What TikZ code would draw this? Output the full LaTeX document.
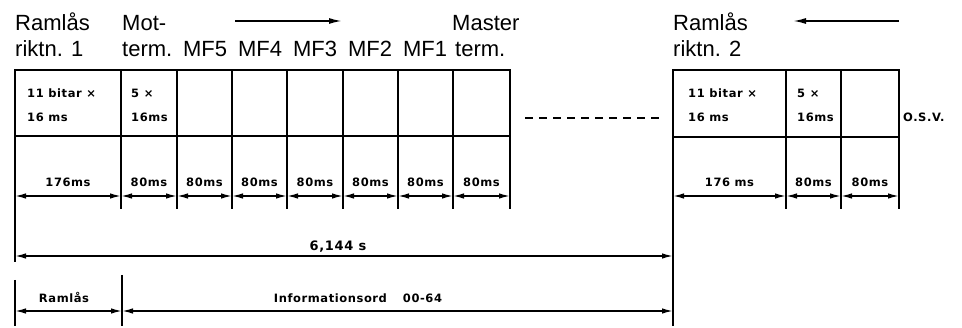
\documentclass[tikz,border=0pt]{standalone}
\usepackage{fontspec}
\setmainfont{Liberation Sans}
\newfontfamily\lblfont{DejaVu Sans}[LetterSpace=5]
\usetikzlibrary{arrows.meta}
\begin{document}
\begin{tikzpicture}[x=1pt,y=-1pt,
  frame/.style={line width=2.6pt},
  cellline/.style={line width=1.5pt},
  dimline/.style={line width=1.5pt,{Latex[length=11pt,width=5.5pt]}-{Latex[length=11pt,width=5.5pt]}},
  onearrow/.style={line width=1.7pt,-{Latex[length=13pt,width=6pt]}},
  head/.style={font=\fontsize{22}{22}\selectfont,inner sep=0pt},
  lbl/.style={font=\lblfont\bfseries\fontsize{11.5}{11.5}\selectfont,inner sep=0pt},
  big/.style={font=\lblfont\bfseries\fontsize{13}{13}\selectfont,inner sep=0pt}]
\useasboundingbox (0,0) rectangle (962,328);

% ---------- headings ----------
\node[head,anchor=base west] (r1a) at (15,31) {Ramlås};
\node[head,anchor=base west] (r1b) at (15,57) {riktn. 1};
\node[head,anchor=base west] (mta) at (122,31) {Mot-};
\node[head,anchor=base west] (mtb) at (122,57) {term.};
\node[head,anchor=base] (mf5) at (205,57) {MF5};
\node[head,anchor=base] (mf4) at (260,57) {MF4};
\node[head,anchor=base] (mf3) at (315,57) {MF3};
\node[head,anchor=base] (mf2) at (370,57) {MF2};
\node[head,anchor=base] (mf1) at (425,57) {MF1};
\node[head,anchor=base west] (msa) at (452,31) {Master};
\node[head,anchor=base west] (msb) at (455,57) {term.};
\node[head,anchor=base west] (r2a) at (673,31) {Ramlås};
\node[head,anchor=base west] (r2b) at (673,57) {riktn. 2};

\coordinate (a1s) at (235,21); \coordinate (a1e) at (342,21);
\draw[onearrow] (a1s) -- (a1e);
\coordinate (a2s) at (899,21); \coordinate (a2e) at (793,21);
\draw[onearrow] (a2s) -- (a2e);

% ---------- left block ----------
\foreach \n/\x in {0/15,1/121,2/177,3/232,4/287,5/343,6/398,7/453,8/510}{
  \coordinate (T\n) at (\x,70);
  \coordinate (M\n) at (\x,136);
  \coordinate (B\n) at (\x,209);
  \coordinate (D\n) at (\x,196);
}
\foreach \n in {1,...,7}{\draw[cellline] (T\n) -- (B\n);}
\draw[cellline] (M8) -- (B8);
\draw[frame] (T0) rectangle (M8);
\draw[frame] (M0) -- (M8);
\coordinate (L0a) at (15,262);
\draw[cellline] (M0) -- (L0a);

\draw[dimline] (D0) -- node[lbl,anchor=base,above=9pt] (d01) {176ms} (D1);
\foreach \a/\b in {1/2,2/3,3/4,4/5,5/6,6/7,7/8}{
  \draw[dimline] (D\a) -- node[lbl,anchor=base,above=9pt] (d\a\b) {80ms} (D\b);
}

\node[lbl,anchor=base west] (c1a) at (27,98) {11 bitar ×};
\node[lbl,anchor=base west] (c1b) at (27,122) {16 ms};
\node[lbl,anchor=base west] (c2a) at (131,98) {5 ×};
\node[lbl,anchor=base west] (c2b) at (131,122) {16ms};

% ---------- dashed continuation ----------
\coordinate (ds) at (525,118); \coordinate (de) at (660,118);
\draw[cellline,dash pattern=on 8pt off 6pt] (ds) -- (de);

% ---------- right block ----------
\foreach \n/\x in {0/673,1/786,2/841,3/899}{
  \coordinate (RT\n) at (\x,70);
  \coordinate (RM\n) at (\x,137);
  \coordinate (RB\n) at (\x,209);
  \coordinate (RD\n) at (\x,196);
}
\foreach \n in {1,2}{\draw[cellline] (RT\n) -- (RB\n);}
\draw[cellline] (RM3) -- (RB3);
\draw[frame] (RT0) rectangle (RM3);
\draw[frame] (RM0) -- (RM3);
\coordinate (RL) at (673,326);
\draw[cellline] (RM0) -- (RL);

\draw[dimline] (RD0) -- node[lbl,anchor=base,above=9pt] (rd01) {176 ms} (RD1);
\draw[dimline] (RD1) -- node[lbl,anchor=base,above=9pt] (rd12) {80ms} (RD2);
\draw[dimline] (RD2) -- node[lbl,anchor=base,above=9pt] (rd23) {80ms} (RD3);

\node[lbl,anchor=base west] (rc1a) at (688,98) {11 bitar ×};
\node[lbl,anchor=base west] (rc1b) at (688,122) {16 ms};
\node[lbl,anchor=base west] (rc2a) at (797,98) {5 ×};
\node[lbl,anchor=base west] (rc2b) at (797,122) {16ms};
\node[lbl,anchor=base west] (osv) at (903,122) {O.S.V.};

% ---------- bottom dimensions ----------
\coordinate (tot0) at (15,256); \coordinate (tot1) at (673,256);
\draw[dimline] (tot0) -- (tot1);
\node[big,anchor=base] (tot) at (338,251) {6,144 s};

\coordinate (Lb0) at (15,280); \coordinate (Lb1) at (15,326);
\draw[cellline] (Lb0) -- (Lb1);
\coordinate (Vb0) at (122,275); \coordinate (Vb1) at (122,326);
\draw[cellline] (Vb0) -- (Vb1);

\coordinate (f0) at (15,311); \coordinate (f1) at (122,311); \coordinate (f2) at (673,311);
\draw[dimline] (f0) -- (f1);
\draw[dimline] (f1) -- (f2);
\node[lbl,anchor=base] (ram) at (64,303) {Ramlås};
\node[lbl,anchor=base] (info) at (358,303) {Informationsord\hspace{16pt}00-64};
\end{tikzpicture}
\end{document}
